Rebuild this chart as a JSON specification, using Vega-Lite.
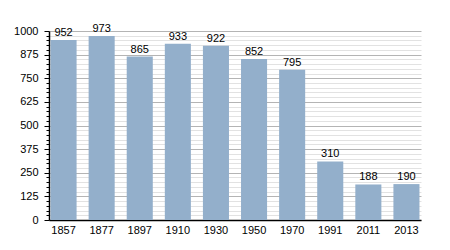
{
  "$schema": "https://vega.github.io/schema/vega-lite/v6.json",
  "autosize": "none",
  "width": 372,
  "height": 189,
  "padding": {"left": 49, "top": 31, "right": 29, "bottom": 30},
  "background": "white",
  "config": {"view": {"stroke": null}, "font": "Liberation Sans"},
  "data": {"values": [
    {"year": "1857", "pop": 952},
    {"year": "1877", "pop": 973},
    {"year": "1897", "pop": 865},
    {"year": "1910", "pop": 933},
    {"year": "1930", "pop": 922},
    {"year": "1950", "pop": 852},
    {"year": "1970", "pop": 795},
    {"year": "1991", "pop": 310},
    {"year": "2011", "pop": 188},
    {"year": "2013", "pop": 190}
  ]},
  "encoding": {
    "x": {"field": "year", "type": "ordinal", "sort": null,
      "scale": {"paddingInner": 0.316, "paddingOuter": 0.04},
      "axis": {"title": null, "labelAngle": 0, "ticks": false, "labelPadding": 4, "labelFontSize": 11, "labelColor": "#000", "domainColor": "#000", "domainWidth": 1.5}},
    "y": {"field": "pop", "type": "quantitative",
      "scale": {"domain": [0, 1000], "nice": false},
      "axis": {"title": null, "format": "d",
        "values": [0,25,50,75,100,125,150,175,200,225,250,275,300,325,350,375,400,425,450,475,500,525,550,575,600,625,650,675,700,725,750,775,800,825,850,875,900,925,950,975,1000],
        "labelExpr": "datum.value % 125 == 0 ? datum.label : ''",
        "labelFontSize": 11, "labelColor": "#000", "labelPadding": 6,
        "domainColor": "#000", "domainWidth": 1.5,
        "tickColor": "#000",
        "tickSize": {"condition": {"test": "datum.value % 125 == 0", "value": 5}, "value": 3},
        "grid": true,
        "gridColor": {"condition": {"test": "datum.value % 125 == 0", "value": "#b4b4b4"}, "value": "#e2e2e2"},
        "gridWidth": 1}}
  },
  "layer": [
    {"mark": {"type": "bar", "color": "#93afcb"}},
    {"mark": {"type": "text", "dy": -7, "fontSize": 11, "color": "#000"},
      "encoding": {"text": {"field": "pop", "type": "quantitative"}}}
  ]
}
